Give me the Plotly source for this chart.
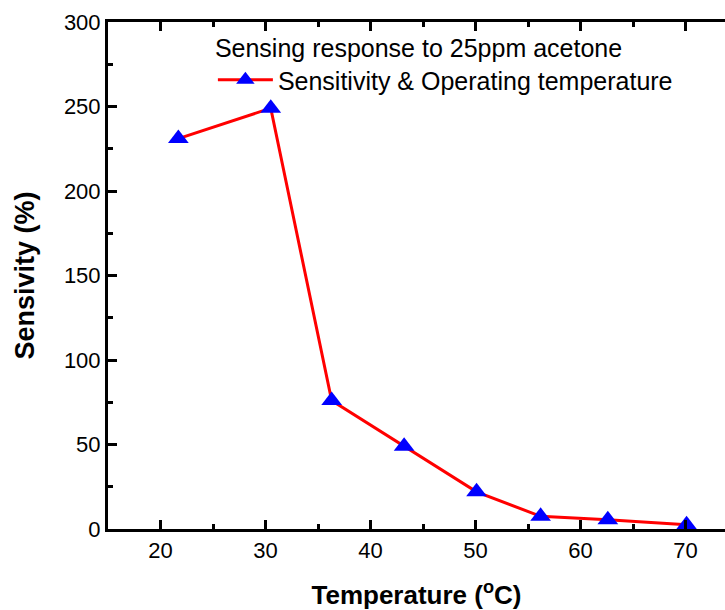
import plotly.graph_objects as go

temperature = [21.7, 30.5, 36.3, 43.2, 50.1, 56.2, 62.6, 70.1]
sensitivity = [231, 249, 76, 49, 22, 7.5, 5.5, 2.5]

series_name = "Sensitivity & Operating temperature"
legend_title = "Sensing response to 25ppm acetone"

FONT = "Liberation Sans, Arial, sans-serif"

fig = go.Figure()
fig.add_trace(go.Scatter(
    x=temperature, y=sensitivity, mode="lines+markers", name=series_name,
    line=dict(color="#ff0000", width=3),
    marker=dict(symbol="triangle-up", size=18, color="#0000ff", line=dict(width=0)),
    showlegend=True,
))

axis_common = dict(
    showline=True, linecolor="black", linewidth=3,
    ticks="inside", ticklen=9, tickwidth=3, tickcolor="black",
    showgrid=False, zeroline=False,
    tickfont=dict(family=FONT, size=22, color="black"),
)

fig.update_layout(
    width=725, height=610,
    margin=dict(l=108, r=0, t=22, b=81),
    paper_bgcolor="white", plot_bgcolor="white",
    font=dict(family=FONT, color="black"),
    xaxis=dict(
        range=[15, 73.76], tickvals=[20, 30, 40, 50, 60, 70],
        mirror="ticks",
        minor=dict(ticks="inside", ticklen=5, tickwidth=3, tickcolor="black", dtick=5),
        title=dict(text="<b>Temperature (<sup>o</sup>C)</b>", font=dict(family=FONT, size=26), standoff=28),
        **axis_common,
    ),
    yaxis=dict(
        range=[0, 300], tickvals=[0, 50, 100, 150, 200, 250, 300],
        minor=dict(ticks="inside", ticklen=5, tickwidth=3, tickcolor="black", dtick=25),
        title=dict(text="<b>Sensivity (%)</b>", font=dict(family=FONT, size=27), standoff=22),
        **axis_common,
    ),
    legend=dict(
        x=0.17, y=0.995, xanchor="left", yanchor="top",
        bgcolor="rgba(0,0,0,0)",
        title=dict(text=legend_title, font=dict(family=FONT, size=25)),
        font=dict(family=FONT, size=25),
        itemwidth=55,
    ),
)

fig.write_html("out.html")
